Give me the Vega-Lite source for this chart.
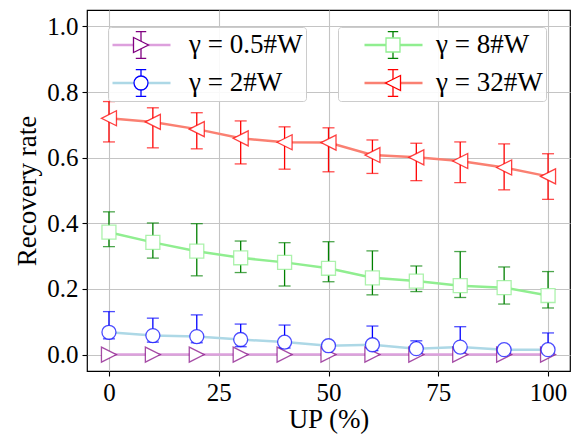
{
  "$schema": "https://vega.github.io/schema/vega-lite/v6.json",
  "width": 483,
  "height": 361,
  "autosize": {"type": "none"},
  "padding": {"left": 87, "top": 10, "right": 4, "bottom": 64},
  "background": "white",
  "data": {"values": [
    {"series": "γ = 0.5#W", "up": 0, "mean": 0, "lower": 0, "upper": 0},
    {"series": "γ = 0.5#W", "up": 10, "mean": 0, "lower": 0, "upper": 0},
    {"series": "γ = 0.5#W", "up": 20, "mean": 0, "lower": 0, "upper": 0},
    {"series": "γ = 0.5#W", "up": 30, "mean": 0, "lower": 0, "upper": 0},
    {"series": "γ = 0.5#W", "up": 40, "mean": 0, "lower": 0, "upper": 0},
    {"series": "γ = 0.5#W", "up": 50, "mean": 0, "lower": 0, "upper": 0},
    {"series": "γ = 0.5#W", "up": 60, "mean": 0, "lower": 0, "upper": 0},
    {"series": "γ = 0.5#W", "up": 70, "mean": 0, "lower": 0, "upper": 0},
    {"series": "γ = 0.5#W", "up": 80, "mean": 0, "lower": 0, "upper": 0},
    {"series": "γ = 0.5#W", "up": 90, "mean": 0, "lower": 0, "upper": 0},
    {"series": "γ = 0.5#W", "up": 100, "mean": 0, "lower": 0, "upper": 0},
    {"series": "γ = 2#W", "up": 0, "mean": 0.068, "lower": 0.048, "upper": 0.131},
    {"series": "γ = 2#W", "up": 10, "mean": 0.058, "lower": 0.038, "upper": 0.111},
    {"series": "γ = 2#W", "up": 20, "mean": 0.055, "lower": 0.036, "upper": 0.121},
    {"series": "γ = 2#W", "up": 30, "mean": 0.046, "lower": 0.024, "upper": 0.093},
    {"series": "γ = 2#W", "up": 40, "mean": 0.038, "lower": 0.020, "upper": 0.090},
    {"series": "γ = 2#W", "up": 50, "mean": 0.027, "lower": 0.020, "upper": 0.035},
    {"series": "γ = 2#W", "up": 60, "mean": 0.030, "lower": 0.012, "upper": 0.087},
    {"series": "γ = 2#W", "up": 70, "mean": 0.018, "lower": 0.005, "upper": 0.042},
    {"series": "γ = 2#W", "up": 80, "mean": 0.023, "lower": 0.005, "upper": 0.085},
    {"series": "γ = 2#W", "up": 90, "mean": 0.015, "lower": 0.008, "upper": 0.022},
    {"series": "γ = 2#W", "up": 100, "mean": 0.015, "lower": 0.000, "upper": 0.066},
    {"series": "γ = 8#W", "up": 0, "mean": 0.373, "lower": 0.329, "upper": 0.435},
    {"series": "γ = 8#W", "up": 10, "mean": 0.342, "lower": 0.294, "upper": 0.401},
    {"series": "γ = 8#W", "up": 20, "mean": 0.315, "lower": 0.240, "upper": 0.399},
    {"series": "γ = 8#W", "up": 30, "mean": 0.295, "lower": 0.250, "upper": 0.346},
    {"series": "γ = 8#W", "up": 40, "mean": 0.281, "lower": 0.209, "upper": 0.341},
    {"series": "γ = 8#W", "up": 50, "mean": 0.263, "lower": 0.222, "upper": 0.344},
    {"series": "γ = 8#W", "up": 60, "mean": 0.234, "lower": 0.182, "upper": 0.316},
    {"series": "γ = 8#W", "up": 70, "mean": 0.224, "lower": 0.192, "upper": 0.270},
    {"series": "γ = 8#W", "up": 80, "mean": 0.210, "lower": 0.174, "upper": 0.314},
    {"series": "γ = 8#W", "up": 90, "mean": 0.204, "lower": 0.154, "upper": 0.267},
    {"series": "γ = 8#W", "up": 100, "mean": 0.180, "lower": 0.142, "upper": 0.253},
    {"series": "γ = 32#W", "up": 0, "mean": 0.720, "lower": 0.648, "upper": 0.771},
    {"series": "γ = 32#W", "up": 10, "mean": 0.709, "lower": 0.630, "upper": 0.752},
    {"series": "γ = 32#W", "up": 20, "mean": 0.687, "lower": 0.627, "upper": 0.737},
    {"series": "γ = 32#W", "up": 30, "mean": 0.659, "lower": 0.581, "upper": 0.712},
    {"series": "γ = 32#W", "up": 40, "mean": 0.647, "lower": 0.565, "upper": 0.694},
    {"series": "γ = 32#W", "up": 50, "mean": 0.646, "lower": 0.557, "upper": 0.691},
    {"series": "γ = 32#W", "up": 60, "mean": 0.608, "lower": 0.552, "upper": 0.654},
    {"series": "γ = 32#W", "up": 70, "mean": 0.601, "lower": 0.530, "upper": 0.644},
    {"series": "γ = 32#W", "up": 80, "mean": 0.590, "lower": 0.524, "upper": 0.648},
    {"series": "γ = 32#W", "up": 90, "mean": 0.570, "lower": 0.502, "upper": 0.642},
    {"series": "γ = 32#W", "up": 100, "mean": 0.543, "lower": 0.473, "upper": 0.612}
  ]},
  "encoding": {
    "x": {"field": "up", "type": "quantitative", "title": "UP (%)",
      "scale": {"domain": [-5, 105], "nice": false, "zero": false},
      "axis": {"values": [0, 25, 50, 75, 100], "labelFlush": false, "titlePadding": 1}}
  },
  "layer": [
    {
      "transform": [{"filter": {"field": "series", "oneOf": ["γ = 0.5#W", "γ = 2#W"]}}],
      "mark": {"type": "line", "strokeWidth": 2.5},
      "encoding": {
        "y": {"field": "mean", "type": "quantitative", "title": "Recovery rate",
          "scale": {"domain": [-0.05, 1.05], "nice": false, "zero": false},
          "axis": {"values": [0, 0.2, 0.4, 0.6, 0.8, 1.0], "format": ".1f", "titlePadding": 5}},
        "color": {"field": "series", "type": "nominal",
          "scale": {"domain": ["γ = 0.5#W", "γ = 2#W"], "range": ["#dda0dd", "#add8e6"]},
          "legend": {"orient": "none", "legendX": 21, "legendY": 17, "title": null,
            "symbolType": "M-1,0L1,0", "symbolSize": 3364, "symbolStrokeWidth": 2.5,
            "clipHeight": 30, "rowPadding": 8, "padding": 3, "labelOffset": 17,
            "labelFont": "Liberation Serif, Times New Roman, DejaVu Serif, serif", "labelFontSize": 27, "labelColor": "black",
            "labelExpr": "datum.label + '\u00a0\u00a0'",
            "strokeColor": "#cccccc", "fillColor": "rgba(255,255,255,0.9)", "cornerRadius": 3, "zindex": 1}}
      }
    },
    {
      "transform": [{"filter": {"field": "series", "oneOf": ["γ = 8#W", "γ = 32#W"]}}],
      "mark": {"type": "line", "strokeWidth": 2.5},
      "encoding": {
        "y": {"field": "mean", "type": "quantitative"},
        "color": {"field": "series", "type": "nominal",
          "scale": {"domain": ["γ = 8#W", "γ = 32#W"], "range": ["#90ee90", "#fa8072"]},
          "legend": {"orient": "none", "legendX": 251, "legendY": 17, "title": null,
            "symbolType": "M-1,0L1,0", "symbolSize": 3364, "symbolStrokeWidth": 2.5,
            "clipHeight": 30, "rowPadding": 8, "padding": 3, "labelOffset": 12, "symbolOffset": 22,
            "labelFont": "Liberation Serif, Times New Roman, DejaVu Serif, serif", "labelFontSize": 27, "labelColor": "black",
            "labelExpr": "datum.label + '\u00a0'",
            "strokeColor": "#cccccc", "fillColor": "rgba(255,255,255,0.9)", "cornerRadius": 3, "zindex": 1}}
      }
    },
    {
      "transform": [{"filter": {"field": "series", "oneOf": ["γ = 0.5#W", "γ = 2#W"]}}],
      "mark": {"type": "rule", "strokeWidth": 1.3},
      "encoding": {
        "y": {"field": "lower", "type": "quantitative"},
        "y2": {"field": "upper"},
        "color": {"field": "series", "type": "nominal",
          "scale": {"domain": ["γ = 0.5#W", "γ = 2#W"], "range": ["#800080", "#0000ff"]},
          "legend": {"orient": "none", "legendX": 21, "legendY": 17, "title": null,
            "symbolType": "M0,-0.46L0,0.46M-0.18,-0.46L0.18,-0.46M-0.18,0.46L0.18,0.46",
            "symbolSize": 3364, "symbolStrokeWidth": 1.3,
            "clipHeight": 30, "rowPadding": 8, "padding": 3, "labelOffset": 17,
            "labelFont": "Liberation Serif, Times New Roman, DejaVu Serif, serif", "labelFontSize": 27, "labelOpacity": 0, "zindex": 2}}
      }
    },
    {
      "transform": [{"filter": {"field": "series", "oneOf": ["γ = 8#W", "γ = 32#W"]}}],
      "mark": {"type": "rule", "strokeWidth": 1.3},
      "encoding": {
        "y": {"field": "lower", "type": "quantitative"},
        "y2": {"field": "upper"},
        "color": {"field": "series", "type": "nominal",
          "scale": {"domain": ["γ = 8#W", "γ = 32#W"], "range": ["#008000", "#ff0000"]},
          "legend": {"orient": "none", "legendX": 251, "legendY": 17, "title": null,
            "symbolType": "M0,-0.46L0,0.46M-0.18,-0.46L0.18,-0.46M-0.18,0.46L0.18,0.46",
            "symbolSize": 3364, "symbolStrokeWidth": 1.3, "symbolOffset": 22,
            "clipHeight": 30, "rowPadding": 8, "padding": 3, "labelOffset": 12,
            "labelFont": "Liberation Serif, Times New Roman, DejaVu Serif, serif", "labelFontSize": 27, "labelOpacity": 0, "zindex": 2}}
      }
    },
    {
      "transform": [{"filter": {"field": "series", "oneOf": ["γ = 0.5#W", "γ = 2#W"]}},
        {"fold": ["lower", "upper"], "as": ["bound", "value"]}],
      "mark": {"type": "tick", "orient": "horizontal", "size": 12, "thickness": 1.3},
      "encoding": {
        "y": {"field": "value", "type": "quantitative"},
        "color": {"field": "series", "type": "nominal",
          "scale": {"domain": ["γ = 0.5#W", "γ = 2#W"], "range": ["#800080", "#0000ff"]},
          "legend": null}
      }
    },
    {
      "transform": [{"filter": {"field": "series", "oneOf": ["γ = 8#W", "γ = 32#W"]}},
        {"fold": ["lower", "upper"], "as": ["bound", "value"]}],
      "mark": {"type": "tick", "orient": "horizontal", "size": 12, "thickness": 1.3},
      "encoding": {
        "y": {"field": "value", "type": "quantitative"},
        "color": {"field": "series", "type": "nominal",
          "scale": {"domain": ["γ = 8#W", "γ = 32#W"], "range": ["#008000", "#ff0000"]},
          "legend": null}
      }
    },
    {
      "transform": [{"filter": {"field": "series", "oneOf": ["γ = 0.5#W", "γ = 2#W"]}}],
      "mark": {"type": "point", "filled": false, "fill": "white", "fillOpacity": 1, "strokeOpacity": 0.7, "size": 3364, "strokeWidth": 1.3, "opacity": 1},
      "encoding": {
        "y": {"field": "mean", "type": "quantitative"},
        "color": {"field": "series", "type": "nominal",
          "scale": {"domain": ["γ = 0.5#W", "γ = 2#W"], "range": ["#800080", "#0000ff"]},
          "legend": {"orient": "none", "legendX": 21, "legendY": 17, "title": null,
            "symbolSize": 3364, "symbolStrokeWidth": 1.3,
            "clipHeight": 30, "rowPadding": 8, "padding": 3, "labelOffset": 17,
            "labelFont": "Liberation Serif, Times New Roman, DejaVu Serif, serif", "labelFontSize": 27, "labelOpacity": 0, "zindex": 3}},
        "shape": {"field": "series", "type": "nominal",
          "scale": {"domain": ["γ = 0.5#W", "γ = 2#W"], "range": ["M0.259,0L-0.259,-0.259L-0.259,0.259Z", "M0.241,0A0.241,0.241,0,1,1,-0.241,0A0.241,0.241,0,1,1,0.241,0Z"]},
          "legend": {"orient": "none", "legendX": 21, "legendY": 17, "title": null,
            "symbolSize": 3364, "symbolStrokeWidth": 1.3,
            "clipHeight": 30, "rowPadding": 8, "padding": 3, "labelOffset": 17,
            "labelFont": "Liberation Serif, Times New Roman, DejaVu Serif, serif", "labelFontSize": 27, "labelOpacity": 0, "zindex": 3}}
      }
    },
    {
      "transform": [{"filter": {"field": "series", "oneOf": ["γ = 8#W", "γ = 32#W"]}}],
      "mark": {"type": "point", "filled": false, "fill": "white", "fillOpacity": 1, "strokeOpacity": 0.75, "size": 3364, "strokeWidth": 1.3, "opacity": 1},
      "encoding": {
        "y": {"field": "mean", "type": "quantitative"},
        "color": {"field": "series", "type": "nominal",
          "scale": {"domain": ["γ = 8#W", "γ = 32#W"], "range": ["#90ee90", "#ff0000"]},
          "legend": {"orient": "none", "legendX": 251, "legendY": 17, "title": null,
            "symbolSize": 3364, "symbolStrokeWidth": 1.3, "symbolOffset": 22,
            "clipHeight": 30, "rowPadding": 8, "padding": 3, "labelOffset": 12,
            "labelFont": "Liberation Serif, Times New Roman, DejaVu Serif, serif", "labelFontSize": 27, "labelOpacity": 0, "zindex": 3}},
        "shape": {"field": "series", "type": "nominal",
          "scale": {"domain": ["γ = 8#W", "γ = 32#W"], "range": ["M-0.241,-0.241L0.241,-0.241L0.241,0.241L-0.241,0.241Z", "M-0.259,0L0.259,-0.259L0.259,0.259Z"]},
          "legend": {"orient": "none", "legendX": 251, "legendY": 17, "title": null,
            "symbolSize": 3364, "symbolStrokeWidth": 1.3, "symbolOffset": 22,
            "clipHeight": 30, "rowPadding": 8, "padding": 3, "labelOffset": 12,
            "labelFont": "Liberation Serif, Times New Roman, DejaVu Serif, serif", "labelFontSize": 27, "labelOpacity": 0, "zindex": 3}}
      }
    }
  ],
  "resolve": {"scale": {"color": "independent", "shape": "independent"}},
  "config": {
    "view": {"stroke": "black", "strokeWidth": 1.2},
    "axis": {"domain": false, "grid": true, "gridColor": "#c4c4c4", "gridWidth": 1.1,
      "tickColor": "black", "tickSize": 5, "tickWidth": 1.1,
      "labelFont": "Liberation Serif, Times New Roman, DejaVu Serif, serif", "labelFontSize": 25, "labelColor": "black", "labelPadding": 4,
      "titleFont": "Liberation Serif, Times New Roman, DejaVu Serif, serif", "titleFontSize": 27, "titleFontWeight": "normal", "titleColor": "black"}
  }
}
